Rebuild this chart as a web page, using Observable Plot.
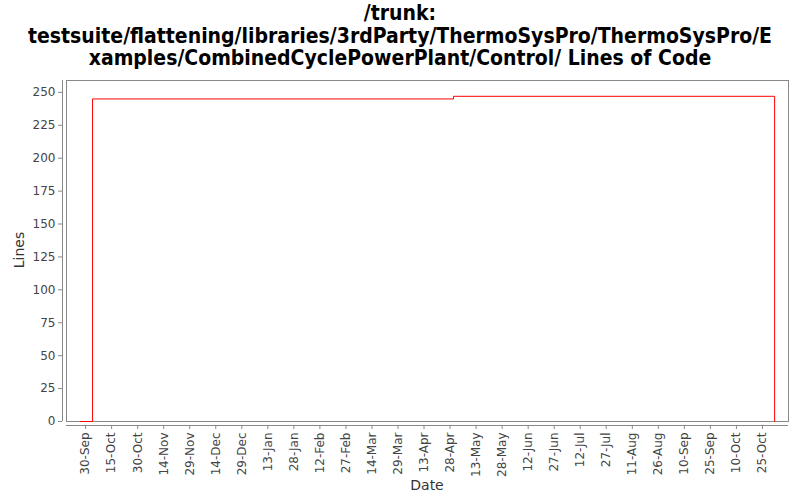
<!DOCTYPE html>
<html>
<head>
<meta charset="utf-8">
<script src="https://cdn.jsdelivr.net/npm/d3@7"></script>
<script src="https://cdn.jsdelivr.net/npm/@observablehq/plot@0.6"></script>
<style>
  html, body { margin: 0; padding: 0; background: #fff; }
  #wrap { width: 800px; height: 500px; position: relative; overflow: hidden; }
  #title { position: absolute; top: 2px; left: 0; width: 800px; text-align: center;
    font-family: "DejaVu Sans Condensed", "DejaVu Sans", sans-serif; font-weight: bold;
    font-size: 21px; line-height: 22.5px; color: #000; white-space: nowrap; }
  #chart { position: absolute; top: 70px; left: 0; }
</style>
</head>
<body>
<div id="wrap">
  <div id="title">/trunk:<br>testsuite/flattening/libraries/3rdParty/ThermoSysPro/ThermoSysPro/E<br>xamples/CombinedCyclePowerPlant/Control/ Lines of Code</div>
  <div id="chart"></div>
</div>
<script>
const dates = ["2009-09-27", "2009-10-04", "2010-04-30", "2010-11-01"];
const lines = [0, 245, 247, 0];
const xTicks = ["2009-09-30","2009-10-15","2009-10-30","2009-11-14","2009-11-29","2009-12-14","2009-12-29",
  "2010-01-13","2010-01-28","2010-02-12","2010-02-27","2010-03-14","2010-03-29","2010-04-13","2010-04-28",
  "2010-05-13","2010-05-28","2010-06-12","2010-06-27","2010-07-12","2010-07-27","2010-08-11","2010-08-26",
  "2010-09-10","2010-09-25","2010-10-10","2010-10-25"];
const yTicks = [0, 25, 50, 75, 100, 125, 150, 175, 200, 225, 250];
const xDomain = ["2009-09-19", "2010-11-09"];
const yDomain = [0, 259];

const data = dates.map((d, i) => ({date: new Date(d + "T00:00:00Z"), value: lines[i]}));
const tickDates = xTicks.map(d => new Date(d + "T00:00:00Z"));
const fmt = d3.utcFormat("%-d-%b");

const chart = Plot.plot({
  width: 800,
  height: 430,
  marginLeft: 66,
  marginRight: 12,
  marginTop: 10,
  marginBottom: 79,
  style: {fontFamily: "DejaVu Sans, sans-serif", fontSize: "12px", color: "#444", background: "#fff"},
  x: {type: "utc", domain: xDomain.map(d => new Date(d + "T00:00:00Z")), ticks: tickDates, tickFormat: fmt},
  y: {domain: yDomain, ticks: yTicks},
  marks: [
    Plot.frame({stroke: "#888"}),
    Plot.axisY({ticks: yTicks, tickSize: 4, tickPadding: 3, dx: -4, stroke: "#888", fill: "#444", label: null}),
    Plot.axisX({ticks: tickDates, tickFormat: fmt, tickSize: 4, tickPadding: 3, dy: 4, tickRotate: -90, stroke: "#888", fill: "#444", label: null}),
    Plot.ruleX([xDomain[0]].map(d => new Date(d + "T00:00:00Z")), {dx: -4, stroke: "#888"}),
    Plot.ruleY([0], {dy: 4, stroke: "#888"}),
    Plot.line(data, {x: "date", y: "value", curve: "step-after", stroke: "red", strokeWidth: 1})
  ]
});
document.getElementById("chart").appendChild(chart);

// axis titles
const svg = d3.select(chart);
svg.append("text").attr("x", 427).attr("y", 420).attr("text-anchor", "middle")
  .attr("font-family", "DejaVu Sans, sans-serif").attr("font-size", 14).attr("fill", "#333").text("Date");
svg.append("text").attr("transform", "translate(24,180) rotate(-90)").attr("text-anchor", "middle")
  .attr("font-family", "DejaVu Sans, sans-serif").attr("font-size", 14).attr("fill", "#333").text("Lines");
</script>
</body>
</html>
